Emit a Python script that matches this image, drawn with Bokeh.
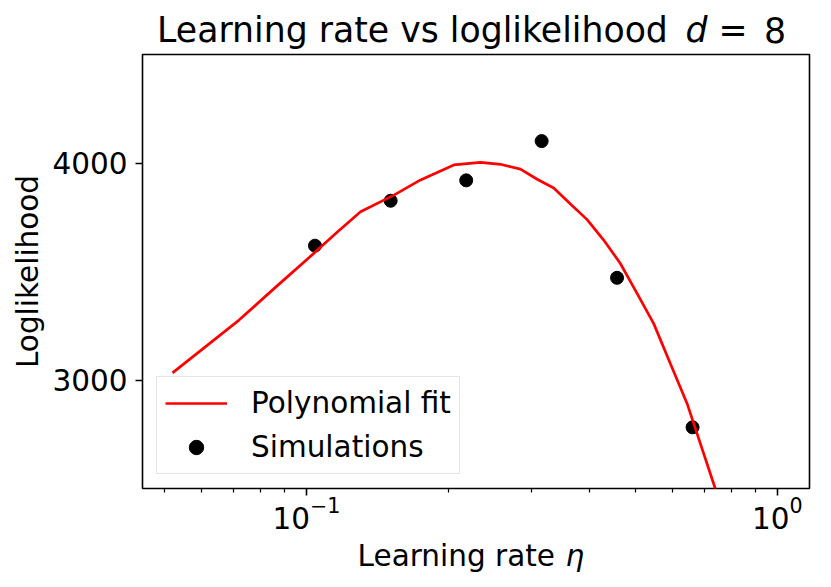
from bokeh.plotting import figure
from bokeh.models import (Range1d, FixedTicker, Legend, LegendItem, ColumnDataSource)
from bokeh.core.properties import value
from bokeh.layouts import column
from bokeh.embed import file_html
from bokeh.resources import INLINE

# ---- data ----
sim_eta = [0.1043, 0.1510, 0.2185, 0.3160, 0.4569, 0.6610]
sim_ll = [3619, 3826, 3920, 4101, 3471, 2782]

fit_eta = [0.05196, 0.07194, 0.08607, 0.10414, 0.11636, 0.13033, 0.15344, 0.17480,
           0.20566, 0.23432, 0.25838, 0.28489, 0.30912, 0.33522, 0.36380, 0.39468,
           0.42798, 0.46435, 0.50385, 0.54635, 0.59285, 0.64343, 0.73855, 0.8000]
fit_ll = [3033, 3276, 3428, 3587, 3682, 3775, 3852, 3922,
          3991, 4003, 3994, 3972, 3925, 3885, 3811, 3739,
          3645, 3537, 3399, 3261, 3076, 2892, 2500, 2250]

x_major_ticks = [0.1, 1.0]
x_minor_ticks = [0.05, 0.06, 0.07, 0.08, 0.09, 0.2, 0.3, 0.4, 0.5, 0.6, 0.7, 0.8, 0.9]
y_major_ticks = [3000, 4000]

title_parts = ["Learning rate vs loglikelihood", "d", "=", "8"]
title_styles = ["normal", "italic", "normal", "normal"]
xlabel_parts = ["Learning rate", "η"]
xlabel_styles = ["normal", "italic"]
ylabel = "Loglikelihood"
legend_fit = "Polynomial fit"
legend_sim = "Simulations"

FONT = "DejaVu Sans"
TICK_FS = "29.5px"
TITLE_FS = "34.7px"
W = 831
BL, BR = 142, 22          # frame borders shared by all rows
HEAD_H = 52
MAIN_H = 483
FOOT_H = 52


def text_strip(height, parts, styles, xs, ypos, size):
    f = figure(width=W, height=height,
               x_range=Range1d(BL, W - BR), y_range=Range1d(height, 0),
               output_backend="svg", toolbar_location=None,
               x_axis_location=None, y_axis_location=None,
               min_border_left=BL, min_border_right=BR,
               min_border_top=0, min_border_bottom=0)
    f.grid.visible = False
    f.outline_line_color = None
    f.background_fill_color = "white"
    f.border_fill_color = "white"
    src = ColumnDataSource(dict(x=xs, y=[ypos] * len(parts), t=parts, s=styles))
    f.text(x="x", y="y", text="t", source=src, text_font=value(FONT),
           text_font_size=value(size), text_font_style="s", text_color="black",
           text_baseline="alphabetic", text_align="left")
    return f


# ---- title strip ----
head = text_strip(HEAD_H, title_parts, title_styles,
                  [156.6, 685.0, 718.0, 763.6], 29.2, TITLE_FS)

# ---- main plot ----
p = figure(width=W, height=MAIN_H, x_axis_type="log",
           x_range=Range1d(0.04487, 1.171), y_range=Range1d(2500, 4500),
           output_backend="svg", toolbar_location=None,
           min_border_left=BL, min_border_right=BR,
           min_border_top=2, min_border_bottom=47)

p.xgrid.visible = False
p.ygrid.visible = False
p.background_fill_color = "white"
p.border_fill_color = "white"
p.outline_line_color = "black"
p.outline_line_width = 1.6

for ax in (p.xaxis[0], p.yaxis[0]):
    ax.axis_line_color = None
    ax.major_tick_line_color = "black"
    ax.major_tick_line_width = 1.6
    ax.minor_tick_line_color = "black"
    ax.minor_tick_line_width = 1.2
    ax.major_tick_in = 0
    ax.major_tick_out = 7
    ax.minor_tick_in = 0
    ax.minor_tick_out = 4
    ax.major_label_text_font = FONT
    ax.major_label_text_font_size = TICK_FS
    ax.major_label_text_color = "black"

p.xaxis[0].ticker = FixedTicker(ticks=x_major_ticks, minor_ticks=x_minor_ticks)
p.xaxis[0].major_label_standoff = 0
p.yaxis[0].ticker = FixedTicker(ticks=y_major_ticks, minor_ticks=[])
p.yaxis[0].major_label_standoff = 8
p.yaxis[0].axis_label = ylabel
p.yaxis[0].axis_label_text_font = FONT
p.yaxis[0].axis_label_text_font_size = TICK_FS
p.yaxis[0].axis_label_text_font_style = "normal"
p.yaxis[0].axis_label_text_color = "black"
p.yaxis[0].axis_label_standoff = 4

sc = p.scatter(sim_eta, sim_ll, size=13, color="black")
ln = p.line(fit_eta, fit_ll, line_color="#ff0000", line_width=2.7)

legend = Legend(items=[LegendItem(label=legend_fit, renderers=[ln]),
                       LegendItem(label=legend_sim, renderers=[sc])],
                location=(14, 14))
legend.label_text_font = FONT
legend.label_text_font_size = TICK_FS
legend.label_text_color = "black"
legend.glyph_width = 62
legend.glyph_height = 36
legend.label_height = 36
legend.label_standoff = 24
legend.spacing = 8
legend.padding = 8
legend.margin = 0
legend.border_line_color = "#cccccc"
legend.border_line_width = 1.3
legend.background_fill_color = "white"
legend.background_fill_alpha = 0.8
p.add_layout(legend)

# ---- x label strip ----
foot = text_strip(FOOT_H, xlabel_parts, xlabel_styles, [357.1, 565.0], 20.2, TICK_FS)

layout = column(head, p, foot, spacing=0)
open("out.html", "w").write(file_html(layout, INLINE))
